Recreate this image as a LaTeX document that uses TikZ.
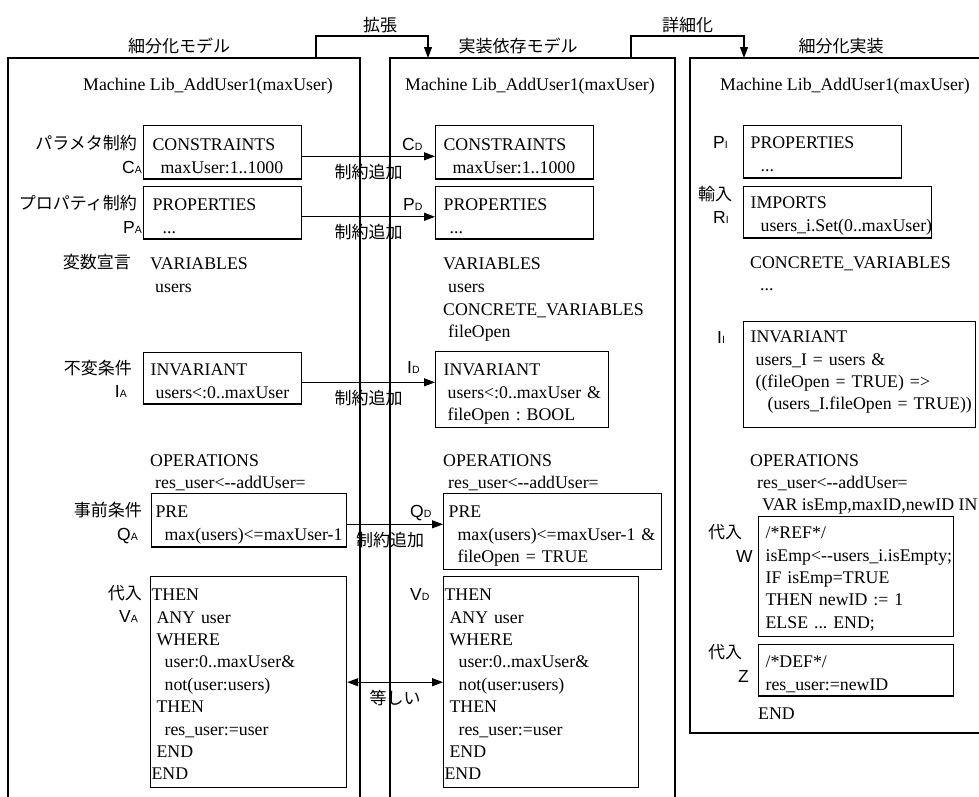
\documentclass[tikz,border=0pt]{standalone}
\usepackage{fontspec}
\setmainfont{Liberation Serif}
\newfontfamily\jpfont{Noto Sans CJK JP}
\newfontfamily\lblfont{Liberation Sans}
\usetikzlibrary{arrows.meta}
\frenchspacing

\newcommand{\codefont}{\fontsize{17.8}{22.4}\selectfont}
\newcommand{\jpsize}{\fontsize{17}{20}\selectfont}
\newcommand{\ind}[1]{\hspace*{#1pt}}
\newcommand{\topgap}[1]{\rule{0pt}{#1pt}}
\newcommand{\botgap}[1]{\rule[-#1pt]{0pt}{#1pt}}
\newcommand{\dd}{-\kern0pt-}
\newcommand{\lbl}[2]{{\lblfont\fontsize{17.5}{20}\selectfont #1{\fontsize{10.5}{12}\selectfont #2}}}

\begin{document}
\begin{tikzpicture}[x=1pt, y=-1pt, font=\codefont, >={Triangle[length=11pt,width=8pt]}]

  % Styles
  \tikzset{
    box/.style={draw, line width=1.2pt, anchor=north west, inner ysep=0pt, align=left,
      execute at begin node={\exhyphenpenalty=10000 \hyphenpenalty=10000 }},
    panel/.style={draw, line width=1.2pt},
    arr/.style={->, line width=1.2pt},
    txt/.style={anchor=base west, inner sep=0pt},
    lab/.style={anchor=base east, inner sep=0pt},
    jp/.style={font=\jpfont\jpsize, inner sep=0pt},
    note/.style={font=\jpfont\jpsize, below=5pt, inner sep=2pt}
  }

  \useasboundingbox (0,0) rectangle (979,796);
  \clip (0,0) rectangle (979,796);

  % Panels
  \draw[panel] (8,800) -- (8,58) -- (360,58) -- (360,800);
  \draw[panel] (390,800) -- (390,58) -- (675,58) -- (675,800);
  \draw[panel] (985,58) -- (690,58) -- (690,733) -- (985,733);

  % Panel titles
  \node[jp, anchor=base] (tA) at (179,52) {細分化モデル};
  \node[jp, anchor=base] (tD) at (518,52) {実装依存モデル};
  \node[jp, anchor=base] (tI) at (841,52) {細分化実装};

  % Panel to panel arrows
  \coordinate (extS) at (316,58);
  \coordinate (extE) at (428,58);
  \coordinate (refS) at (631,58);
  \coordinate (refE) at (744,58);
  \draw[arr] (extS) -- ++(0,-22) -| node[jp, pos=0.25, above=3pt, xshift=8pt] {拡張} (extE);
  \draw[arr] (refS) -- ++(0,-22) -| node[jp, pos=0.25, above=3pt] {詳細化} (refE);

  % Machine headers
  \node[txt] (mA) at (83,90) {Machine Lib\_AddUser1(maxUser)};
  \node[txt] (mD) at (405,90) {Machine Lib\_AddUser1(maxUser)};
  \node[txt] (mI) at (720,90) {Machine Lib\_AddUser1(maxUser)};

  % Abstract model (left)
  \node[box, inner xsep=9pt, text width=140pt] (cA) at (143,125)
    {\topgap{25}CONSTRAINTS\\ \ind{8}maxUser:1..1000\botgap{6}};
  \node[box, inner xsep=9pt, text width=140pt] (pA) at (143,186)
    {\topgap{24}PROPERTIES\\ \ind{10}...\botgap{6}};
  \node[txt] (varA) at (150,269) {VARIABLES};
  \node[txt] (usrA) at (155,292) {users};
  \node[box, inner xsep=7pt, text width=144pt] (iA) at (143,352)
    {\topgap{23}INVARIANT\\ \ind{5}\mbox{users<:0..maxUser}\botgap{6}};
  \node[txt] (opA) at (150,466) {OPERATIONS};
  \node[txt] (sigA) at (155,488) {res\_user<\dd addUser=};
  \node[box, inner xsep=4pt, text width=187pt] (qA) at (151,493)
    {\topgap{24}PRE\\ \ind{9}\mbox{max(users)<=maxUser-1}\botgap{7}};
  \node[box, inner xsep=1pt, text width=194pt] (vA) at (150,576)
    {\topgap{24}THEN\\ \ind{5}ANY user\\ \ind{5}WHERE\\ \ind{13}user:0..maxUser\&\\
     \ind{13}not(user:users)\\ \ind{5}THEN\\ \ind{13}res\_user:=user\\ \ind{5}END\\ END\botgap{8}};

  % Labels of the abstract model
  \node[jp, lab] (lcA) at (137,149) {パラメタ制約};
  \node[lab] (scA) at (142,173) {\lbl{C}{A}};
  \node[jp, lab] (lpA) at (137,209) {プロパティ制約};
  \node[lab] (spA) at (142,233) {\lbl{P}{A}};
  \node[jp, lab] (lvA) at (131,268) {変数宣言};
  \node[jp, lab] (liA) at (132,374) {不変条件};
  \node[lab] (siA) at (127,397) {\lbl{I}{A}};
  \node[jp, lab] (lqA) at (142,516) {事前条件};
  \node[lab] (sqA) at (138,540) {\lbl{Q}{A}};
  \node[jp, lab] (lvvA) at (142,599) {代入};
  \node[lab] (svA) at (138,622) {\lbl{V}{A}};

  % Implementation dependent model (middle)
  \node[box, inner xsep=8pt, text width=142pt] (cD) at (435,125)
    {\topgap{25}CONSTRAINTS\\ \ind{9}maxUser:1..1000\botgap{6}};
  \node[box, inner xsep=8pt, text width=142pt] (pD) at (435,186)
    {\topgap{24}PROPERTIES\\ \ind{6}...\botgap{6}};
  \node[txt] (varD) at (443,269) {VARIABLES};
  \node[txt] (usrD) at (448,292) {users};
  \node[txt] (cvarD) at (443,315) {CONCRETE\_VARIABLES};
  \node[txt] (foD) at (448,337) {fileOpen};
  \node[box, inner xsep=8pt, text width=157pt] (iD) at (435,351)
    {\topgap{24}INVARIANT\\ \ind{4}\mbox{users<:0..maxUser \&}\\ \ind{4}\mbox{fileOpen : BOOL}\botgap{7}};
  \node[txt] (opD) at (443,466) {OPERATIONS};
  \node[txt] (sigD) at (448,488) {res\_user<\dd addUser=};
  \node[box, inner xsep=5pt, text width=208pt] (qD) at (443,493)
    {\topgap{24}PRE\\ \ind{9}\mbox{max(users)<=maxUser-1 \&}\\ \ind{9}\mbox{fileOpen = TRUE}\botgap{7}};
  \node[box, inner xsep=1pt, text width=193pt] (vD) at (443,576)
    {\topgap{24}THEN\\ \ind{5}ANY user\\ \ind{5}WHERE\\ \ind{14}user:0..maxUser\&\\
     \ind{14}not(user:users)\\ \ind{5}THEN\\ \ind{14}res\_user:=user\\ \ind{5}END\\ END\botgap{8}};

  % Labels of the implementation dependent model
  \node[txt] (scD) at (402,150) {\lbl{C}{D}};
  \node[txt] (spD) at (403,210) {\lbl{P}{D}};
  \node[txt] (siD) at (407,373) {\lbl{I}{D}};
  \node[txt] (sqD) at (410,517) {\lbl{Q}{D}};
  \node[txt] (svD) at (410,600) {\lbl{V}{D}};

  % Refined implementation (right)
  \node[box, inner xsep=7pt, text width=144pt] (pI) at (743,125)
    {\topgap{23}PROPERTIES\\ \ind{10}...\botgap{7}};
  \node[box, inner xsep=7pt, text width=174pt] (rI) at (743,186)
    {\topgap{22}IMPORTS\\ \ind{10}\mbox{users\_i.Set(0..maxUser)}\botgap{7}};
  \node[txt] (cvarI) at (750,268) {CONCRETE\_VARIABLES};
  \node[txt] (dotI) at (760,290) {...};
  \node[box, inner xsep=7pt, text width=218pt] (iI) at (743,321)
    {\topgap{21}INVARIANT\\ \ind{5}\mbox{users\_I = users \&}\\ \ind{5}\mbox{((fileOpen = TRUE) =>}\\
     \ind{17}\mbox{(users\_I.fileOpen = TRUE))}\botgap{18}};
  \node[txt] (opI) at (750,466) {OPERATIONS};
  \node[txt] (sigI) at (757,488) {res\_user<\dd addUser=};
  \node[txt] (varI) at (762,510) {VAR isEmp,maxID,newID IN};
  \node[box, inner xsep=7pt, text width=181pt] (wI) at (758,516)
    {\topgap{22}/*REF*/\\ \mbox{isEmp<\dd users\_i.isEmpty;}\\ \mbox{IF isEmp=TRUE}\\
     \mbox{THEN newID := 1}\\ \mbox{ELSE ... END;}\botgap{8}};
  \node[box, inner xsep=7pt, text width=181pt] (zI) at (758,644)
    {\topgap{23}/*DEF*/\\ res\_user:=newID\botgap{6}};
  \node[txt] (endI) at (758,719) {END};

  % Labels of the refined implementation
  \node[txt] (spI) at (713,148) {\lbl{P}{I}};
  \node[jp, txt] (lrI) at (698,200) {輸入};
  \node[txt] (srI) at (713,223) {\lbl{R}{I}};
  \node[txt] (siI) at (717,343) {\lbl{I}{I}};
  \node[jp, txt] (lwI) at (708,538) {代入};
  \node[txt] (swI) at (736,562) {\lbl{W}{}};
  \node[jp, txt] (lzI) at (708,658) {代入};
  \node[txt] (szI) at (738,682) {\lbl{Z}{}};

  % Relations between the models
  \draw[arr] ([yshift=-4pt]cA.east) -- node[note] {制約追加} ([yshift=-4pt]cA.east -| cD.west);
  \draw[arr] ([yshift=-4pt]pA.east) -- node[note] {制約追加} ([yshift=-4pt]pA.east -| pD.west);
  \draw[arr] ([yshift=-4pt]iA.east) -- node[note] {制約追加} ([yshift=-4pt]iA.east -| iD.west);
  \draw[arr] ([yshift=-4pt]qA.east) -- node[note, xshift=-5pt] {制約追加} ([yshift=-4pt]qA.east -| qD.west);
  \draw[arr, <->] (vA.east) -- node[note] {等しい} (vA.east -| vD.west);

\end{tikzpicture}
\end{document}
